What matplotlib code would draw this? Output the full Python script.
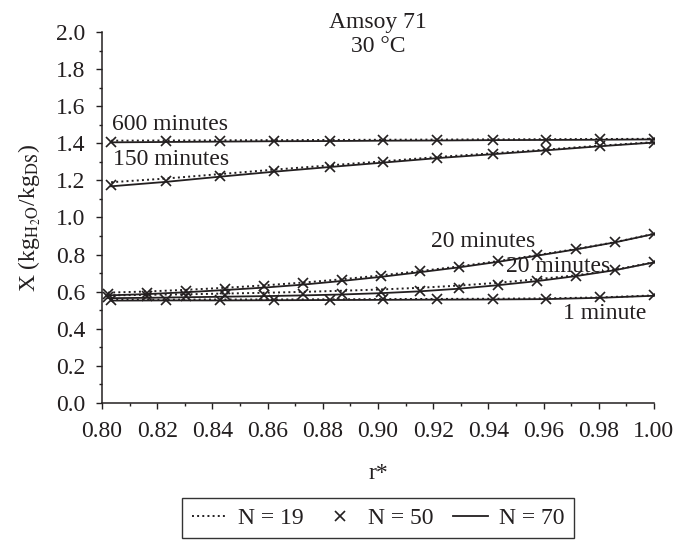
import matplotlib
matplotlib.use("Agg")
import matplotlib.pyplot as plt
import matplotlib.ticker as mticker

# --- data ---
# r* positions of the points (two grids are used in the source figure)
r_coarse = [0.8033, 0.8232, 0.8428, 0.8625, 0.8825, 0.9020, 0.9215, 0.9415, 0.9609, 0.9804, 1.0]
r_fine = [0.8022, 0.8163, 0.8304, 0.8446, 0.8587, 0.8728, 0.8870, 0.9011,
          0.9152, 0.9293, 0.9435, 0.9576, 0.9717, 0.9859, 1.0]

# 600 minutes
x600_n19 = [1.414, 1.415, 1.416, 1.417, 1.418, 1.419, 1.420, 1.421, 1.422, 1.423, 1.424]
x600_n50 = [1.408, 1.410, 1.412, 1.413, 1.414, 1.416, 1.417, 1.419, 1.420, 1.421, 1.422]
x600_n70 = [1.405, 1.407, 1.409, 1.411, 1.412, 1.414, 1.415, 1.417, 1.418, 1.419, 1.421]

# 150 minutes
x150_n19 = [1.190, 1.210, 1.234, 1.258, 1.281, 1.303, 1.326, 1.346, 1.366, 1.387, 1.406]
x150_n50 = [1.175, 1.198, 1.226, 1.250, 1.274, 1.298, 1.322, 1.342, 1.362, 1.385, 1.404]
x150_n70 = [1.168, 1.192, 1.220, 1.247, 1.272, 1.296, 1.320, 1.341, 1.362, 1.384, 1.404]

# 20 minutes (upper curve)
x20a_n19 = [0.595, 0.601, 0.610, 0.621, 0.634, 0.649, 0.667, 0.688, 0.711, 0.736, 0.765, 0.797, 0.830, 0.867, 0.912]
x20a_n50 = [0.588, 0.595, 0.604, 0.616, 0.629, 0.645, 0.664, 0.686, 0.709, 0.734, 0.764, 0.798, 0.829, 0.866, 0.912]
x20a_n70 = [0.580, 0.587, 0.597, 0.609, 0.622, 0.638, 0.658, 0.680, 0.705, 0.731, 0.761, 0.794, 0.828, 0.866, 0.911]

# 20 minutes (lower curve, labelled the same in the source)
x20b_n19 = [0.580, 0.583, 0.586, 0.590, 0.594, 0.599, 0.605, 0.612, 0.621, 0.633, 0.648, 0.667, 0.688, 0.718, 0.759]
x20b_n50 = [0.572, 0.575, 0.578, 0.580, 0.583, 0.586, 0.590, 0.598, 0.605, 0.620, 0.638, 0.660, 0.683, 0.716, 0.759]
x20b_n70 = [0.565, 0.567, 0.570, 0.573, 0.576, 0.580, 0.585, 0.592, 0.602, 0.616, 0.635, 0.657, 0.684, 0.716, 0.758]

# 1 minute
x1_n19 = [0.557, 0.557, 0.558, 0.558, 0.559, 0.560, 0.561, 0.562, 0.564, 0.569, 0.580]
x1_n50 = [0.553, 0.554, 0.555, 0.556, 0.557, 0.558, 0.559, 0.560, 0.562, 0.569, 0.580]
x1_n70 = [0.552, 0.553, 0.553, 0.554, 0.555, 0.556, 0.557, 0.558, 0.560, 0.567, 0.578]

curves = [
    (r_coarse, x600_n19, x600_n50, x600_n70),
    (r_coarse, x150_n19, x150_n50, x150_n70),
    (r_fine, x20a_n19, x20a_n50, x20a_n70),
    (r_fine, x20b_n19, x20b_n50, x20b_n70),
    (r_coarse, x1_n19, x1_n50, x1_n70),
]

# curve labels: (text, r*, X)
labels = [
    ("600 minutes", 0.8036, 1.500),
    ("150 minutes", 0.8040, 1.312),
    ("20 minutes", 0.9192, 0.872),
    ("20 minutes", 0.9465, 0.737),
    ("1 minute", 0.9672, 0.483),
]

INK = "#231f20"
plt.rcParams["font.family"] = ["Liberation Serif", "DejaVu Serif"]
plt.rcParams["mathtext.fontset"] = "stix"
plt.rcParams["font.size"] = 17
plt.rcParams["text.color"] = INK
plt.rcParams["axes.labelcolor"] = INK
plt.rcParams["xtick.color"] = INK
plt.rcParams["ytick.color"] = INK

fig = plt.figure(figsize=(6.84, 5.41), dpi=100)
ax = fig.add_axes([0.1491, 0.2551, 0.8070, 0.6858])

for r, n19, n50, n70 in curves:
    ax.plot(r, n19, linestyle=":", color=INK, lw=1.4)
    ax.plot(r, n50, linestyle="none", marker="x", color=INK, ms=6.5, mew=1.2)
    ax.plot(r, n70, linestyle="-", color=INK, lw=1.3)

for txt, rx, yx in labels:
    ax.text(rx, yx, txt, ha="left", va="center")

ax.text(0.5, 0.993, "Amsoy 71\n30 °C", transform=ax.transAxes,
        ha="center", va="center", linespacing=1.19)

ax.set_xlim(0.8, 1.0)
ax.set_ylim(0.0, 2.0)
ax.xaxis.set_major_locator(mticker.MultipleLocator(0.02))
ax.xaxis.set_minor_locator(mticker.MultipleLocator(0.01))
ax.yaxis.set_major_locator(mticker.MultipleLocator(0.2))
ax.yaxis.set_minor_locator(mticker.MultipleLocator(0.1))
ax.xaxis.set_major_formatter(mticker.FormatStrFormatter("%.2f"))
ax.yaxis.set_major_formatter(mticker.FormatStrFormatter("%.1f"))
ax.tick_params(which="major", length=4, width=1, pad=9, direction="out")
ax.tick_params(axis="y", which="major", pad=8)
ax.tick_params(which="minor", length=2.5, width=1, direction="out")

for side in ("top", "right"):
    ax.spines[side].set_visible(False)
for side in ("left", "bottom"):
    ax.spines[side].set_color(INK)
    ax.spines[side].set_linewidth(1.1)

ax.set_xlabel("r*")
ax.xaxis.set_label_coords(0.5, -0.162)
ax.set_ylabel(r"X (kg$_{\mathrm{H_2O}}$/kg$_{\mathrm{DS}}$)")
ax.yaxis.set_label_coords(-0.106, 0.5)

handles = [
    plt.Line2D([], [], linestyle=":", color=INK, lw=1.4),
    plt.Line2D([], [], linestyle="none", marker="x", color=INK, ms=6.5, mew=1.2),
    plt.Line2D([], [], linestyle="-", color=INK, lw=1.3),
]
leg = ax.legend(handles, ["N = 19", "N = 50", "N = 70"], loc="upper center",
                bbox_to_anchor=(0.5, -0.256), borderaxespad=0, ncol=3, frameon=True,
                fancybox=False, edgecolor="#333333", framealpha=1, handlelength=1.5,
                handletextpad=0.45, columnspacing=0.8, borderpad=0.4)
leg.get_frame().set_linewidth(1.0)

fig.savefig("out.png", dpi=100)
